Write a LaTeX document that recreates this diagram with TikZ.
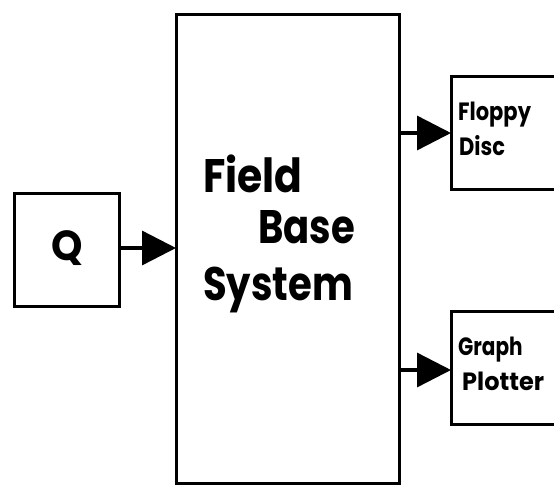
\documentclass[tikz,border=0pt]{standalone}
\usepackage{fontspec}
\newfontfamily\pf{Poppins}[UprightFont=* Bold]
\usetikzlibrary{arrows.meta}
\begin{document}
\begin{tikzpicture}[x=1pt,y=-1pt,
  box/.style={draw,line width=3.4pt,inner sep=0pt,anchor=north west},
  lbl/.style={inner sep=0pt,anchor=base west,font=\pf},
  big/.style={lbl,font=\pf\fontsize{47}{47}\selectfont},
  small/.style={lbl,font=\pf\fontsize{25}{25}\selectfont},
  conn/.style={line width=3.4pt,-{Triangle[length=34pt,width=34pt]},shorten >=-1pt}]
\useasboundingbox (0,0) rectangle (554,485);
\node[box,minimum width=105pt,minimum height=113pt] (q) at (13,192) {};
\node[box,minimum width=223pt,minimum height=469pt] (fbs) at (175,13) {};
\node[box,minimum width=105pt,minimum height=113pt] (fd) at (450,75) {};
\node[box,minimum width=105pt,minimum height=113pt] (gp) at (450,310) {};
\node[inner sep=0pt,font=\pf\fontsize{42}{42}\selectfont,xscale=0.95] (qt) at (67,248) {Q};
\node[big,xscale=0.87] (t1) at (203,192) {Field};
\node[big,xscale=0.82] (t2) at (258,243) {Base};
\node[big,xscale=0.82] (t3) at (203,300) {System};
\node[small,xscale=0.84] (t4) at (458,120) {Floppy};
\node[small,xscale=0.84] (t5) at (459,155) {Disc};
\node[small,xscale=0.8] (t6) at (458,355) {Graph};
\node[small,xscale=0.96] (t7) at (462,390) {Plotter};
\draw[conn] (q.east |- 0,248) -- (fbs.west |- 0,248);
\draw[conn] (fbs.east |- 0,133) -- (fd.west |- 0,133);
\draw[conn] (fbs.east |- 0,370) -- (gp.west |- 0,370);
\end{tikzpicture}
\end{document}
